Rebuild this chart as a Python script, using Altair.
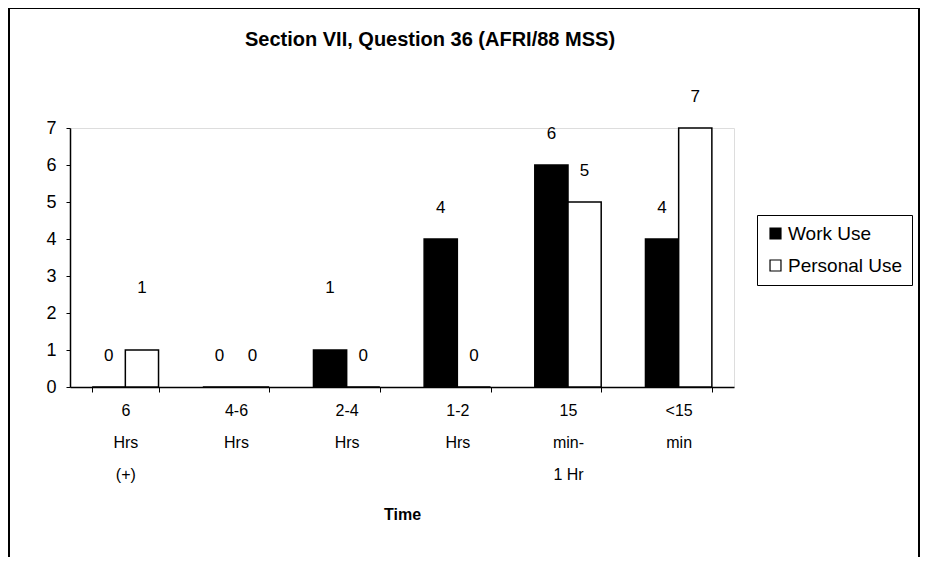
import altair as alt
import pandas as pd

categories = ["6|Hrs|(+)", "4-6|Hrs", "2-4|Hrs", "1-2|Hrs", "15|min-|1 Hr", "<15|min"]
series = ["Work Use", "Personal Use"]
work_use = [0, 0, 1, 4, 6, 4]
personal_use = [1, 0, 0, 0, 5, 7]
title_text = "Section VII, Question 36 (AFRI/88 MSS)"

rows = []
for c, w, p in zip(categories, work_use, personal_use):
    rows.append({"time": c, "series": series[0], "value": w})
    rows.append({"time": c, "series": series[1], "value": p})
df = pd.DataFrame(rows)

FONT = "Liberation Sans"

x_enc = alt.X(
    "time:N",
    sort=categories,
    title="Time",
    scale=alt.Scale(paddingInner=0.4, paddingOuter=0.2),
    axis=alt.Axis(
        labelExpr="split(datum.label, '|')",
        labelAngle=0,
        labelFont=FONT,
        labelFontSize=16,
        labelLineHeight=32,
        labelColor="black",
        labelPadding=10,
        labelBaseline="top",
        titleFont=FONT,
        titleFontSize=16,
        titleFontWeight="bold",
        titleColor="black",
        titlePadding=24,
        tickBand="extent",
        tickColor="black",
        tickSize=5,
        domainColor="black",
        domainWidth=1.5,
    ),
)
xo_enc = alt.XOffset("series:N", sort=series, scale=alt.Scale(domain=series, paddingInner=0, paddingOuter=0))
y_enc = alt.Y(
    "value:Q",
    title=None,
    scale=alt.Scale(domain=[0, 7], nice=False),
    axis=alt.Axis(
        values=[0, 1, 2, 3, 4, 5, 6, 7],
        labelOverlap=False,
        grid=False,
        labelFont=FONT,
        labelFontSize=18,
        labelColor="black",
        labelPadding=10,
        tickColor="black",
        tickSize=4,
        domainColor="black",
        domainWidth=1.5,
    ),
)

base = alt.Chart(df)

bars = base.mark_bar(stroke="black", strokeWidth=1.5).encode(
    x=x_enc,
    xOffset=xo_enc,
    y=y_enc,
    fill=alt.Fill(
        "series:N",
        sort=series,
        scale=alt.Scale(domain=series, range=["black", "white"]),
        legend=alt.Legend(
            title=None,
            orient="none",
            legendX=687,
            legendY=87,
            symbolType="square",
            symbolSize=120,
            symbolStrokeColor="black",
            symbolStrokeWidth=1.2,
            labelFont=FONT,
            labelFontSize=19,
            labelColor="black",
            strokeColor="black",
            padding=9,
            rowPadding=12,
            labelOffset=3,
        ),
    ),
)

labels_main = base.transform_filter("datum.value != 1").mark_text(
    font=FONT, fontSize=17, color="black", dy=-31
).encode(
    x=alt.X("time:N", sort=categories, title="Time"),
    xOffset=xo_enc,
    y=y_enc,
    text="value:Q",
)
labels_one = base.transform_filter("datum.value == 1").mark_text(
    font=FONT, fontSize=17, color="black", dy=-62
).encode(
    x=alt.X("time:N", sort=categories, title="Time"),
    xOffset=xo_enc,
    y=y_enc,
    text="value:Q",
)

title = alt.Chart(alt.Data(values=[{"t": title_text}])).mark_text(
    font=FONT, fontSize=20, fontWeight="bold", color="black", align="center", baseline="middle"
).encode(text="t:N", x=alt.value(360), y=alt.value(-88))

frame = alt.Chart(alt.Data(values=[{"f": 1}])).mark_rect(
    fill="white", fillOpacity=0, stroke="black", strokeWidth=2
).encode(
    x=alt.value(-61), x2=alt.value(849), y=alt.value(-120), y2=alt.value(460)
)

chart = alt.layer(frame, bars, labels_main, labels_one, title).properties(
    width=664,
    height=259,
    padding={"left": 62, "top": 120, "right": 186, "bottom": 170},
    autosize=alt.AutoSizeParams(type="none"),
).configure_view(stroke="black", strokeWidth=1.5).configure(background="white")

chart.save("out.html", embed_options={"renderer": "svg", "actions": False})
